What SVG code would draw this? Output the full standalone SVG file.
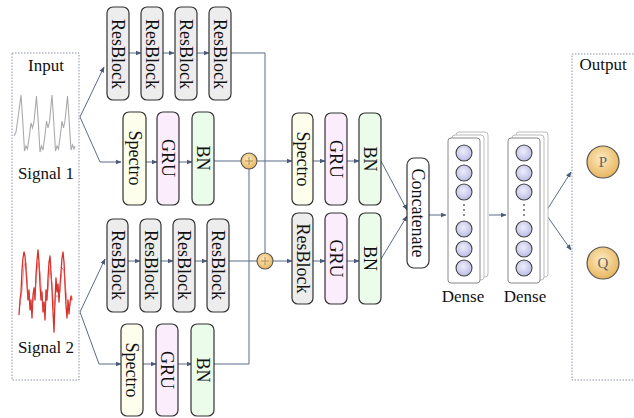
<svg xmlns="http://www.w3.org/2000/svg" width="634" height="418" viewBox="0 0 634 418">
<defs>
<style>
.t{font-family:"Liberation Serif","Times New Roman",serif;fill:#111}
.bt{font-family:"Liberation Serif","Times New Roman",serif;font-size:18px;fill:#111;text-anchor:middle;dominant-baseline:central}
.box{stroke:#333;stroke-width:1.2}
.res{fill:#ededed}
.spe{fill:#fefeec}
.gru{fill:#fcedfc}
.bn{fill:#ebfceb}
.c{fill:none;stroke:#5b6b88;stroke-width:1}
.ca{fill:none;stroke:#5b6b88;stroke-width:1;marker-end:url(#ah)}
.frame{fill:none;stroke:#8a93a8;stroke-width:1;stroke-dasharray:1.5 1.5}
.neu{fill:url(#ng);stroke:#444;stroke-width:1.1}
.ghost{fill:#e4e4f4;stroke:#bbb;stroke-width:0.8}
.lay{fill:#fff;stroke:#888;stroke-width:1}
.layb{fill:#fff;stroke:#bbb;stroke-width:1}
</style>
<marker id="ah" viewBox="0 0 10 10" refX="9" refY="5" markerWidth="6" markerHeight="6" orient="auto" markerUnits="userSpaceOnUse">
<path d="M0,1 L10,5 L0,9 z" fill="#4a5a78"/>
</marker>
<radialGradient id="og" cx="45%" cy="40%" r="60%">
<stop offset="0" stop-color="#fdecc2"/>
<stop offset="1" stop-color="#e8b55e"/>
</radialGradient>
<radialGradient id="ng" cx="45%" cy="40%" r="60%">
<stop offset="0" stop-color="#eeeefb"/>
<stop offset="1" stop-color="#bcbce6"/>
</radialGradient>
</defs>
<rect width="634" height="418" fill="#fff"/>

<!-- frames -->
<g id="input">
<rect class="frame" x="12" y="53" width="67" height="327"/>
<text class="t" x="46" y="71" font-size="17" text-anchor="middle">Input</text>
<path d="M14,136 L16,132 L18,118 L21,95 L23,125 L24.5,151 L26,146 L27.5,149 L29.5,135 L31,123 L32.5,128 L34,122 L36.5,96 L38.5,126 L40,152 L41.5,146 L43,150 L45,135 L46.5,121 L48,128 L49.5,122 L52,95 L54,126 L55.5,151 L57,146 L58.5,149 L60.5,134 L62,121 L63.5,128 L65,121 L67.5,96 L69.5,126 L71,150 L72.5,145 L74,149 L75,146" fill="none" stroke="#aaa" stroke-width="1.1"/>
<text class="t" x="46" y="179" font-size="17" text-anchor="middle">Signal 1</text>
<path d="M19,315 L20,300 L21,292 L22,270 L23,258 L24,252 L25,256 L26,270 L27,285 L28,300 L29,290 L30,310 L31,300 L32,318 L33,295 L34,288 L35,300 L36,275 L37,260 L38,250 L39,262 L40,285 L41,300 L42,292 L43,312 L44,302 L45,320 L46,290 L47,300 L48,278 L49,262 L50,256 L51,272 L52,290 L53,312 L54,332 L55,300 L56,278 L57,292 L58,284 L59,302 L60,285 L61,272 L62,258 L63,252 L64,262 L65,285 L66,306 L67,318 L68,300 L69,314 L70,302 L71,296 L72,300" fill="none" stroke="#d8302a" stroke-width="1.3" stroke-linejoin="round"/>
<path d="M20,305 L22,290 L24,265 L26,262 L28,294 L30,300 L32,306 L34,296 L36,282 L38,262 L40,272 L42,298 L44,310 L46,300 L48,290 L50,268 L52,284 L54,310 L56,296 L58,296 L60,292 L62,268 L64,270 L66,292 L68,308 L70,306 L72,296" fill="none" stroke="#e05050" stroke-width="0.9" opacity="0.7"/>
<text class="t" x="46" y="353" font-size="17" text-anchor="middle">Signal 2</text>
</g>

<g id="output">
<rect class="frame" x="572" y="54" width="70" height="326"/>
<text class="t" x="603" y="70" font-size="17" text-anchor="middle">Output</text>
</g>

<!-- connectors -->
<g id="connectors">
<path class="ca" d="M80,117 L104,67"/>
<path class="ca" d="M80,117 L100,162 L121,162"/>
<path class="ca" d="M129,53 L141,53"/>
<path class="ca" d="M163,53 L174,53"/>
<path class="ca" d="M197,53 L209,53"/>
<path class="c" d="M231,53 L265,53 L265,253"/>
<path class="ca" d="M146,162 L157,162"/>
<path class="ca" d="M179,162 L192,162"/>
<path class="c" d="M214,161 L241,161"/>
<path class="ca" d="M257,161 L292,161"/>
<path class="ca" d="M80,312 L105,259"/>
<path class="ca" d="M80,312 L99,364 L121,364"/>
<path class="ca" d="M128,261 L140,261"/>
<path class="ca" d="M161,261 L173,261"/>
<path class="ca" d="M195,261 L207,261"/>
<path class="c" d="M229,261 L257,261"/>
<path class="ca" d="M273,261 L292,261"/>
<path class="ca" d="M143,364 L156,364"/>
<path class="ca" d="M178,364 L192,364"/>
<path class="c" d="M214,364 L249,364 L249,169" stroke="#7f889a" stroke-width="1.4"/>
<path class="ca" d="M313,161 L325,161"/>
<path class="ca" d="M347,161 L359,161"/>
<path class="ca" d="M313,261 L325,261"/>
<path class="ca" d="M347,261 L359,261"/>
<path class="ca" d="M381,161 L407,210"/>
<path class="ca" d="M381,259 L407,216"/>
<path class="ca" d="M429,215 L446,215"/>
<path class="ca" d="M489,215 L506,215"/>
<path class="ca" d="M545,213 L571,172"/>
<path class="ca" d="M545,213 L571,250"/>
</g>

<!-- sum nodes -->
<g id="sum1">
<circle cx="249" cy="161" r="8" fill="url(#og)" stroke="#555" stroke-width="1.1"/>
<path d="M245,161 L253,161 M249,157 L249,165" stroke="#b08a50" stroke-width="1"/>
</g>
<g id="sum2">
<circle cx="265" cy="261" r="8" fill="url(#og)" stroke="#555" stroke-width="1.1"/>
<path d="M261,261 L269,261 M265,257 L265,265" stroke="#b08a50" stroke-width="1"/>
</g>

<!-- top branch -->
<g id="rb1"><rect class="box res" x="107" y="7" width="22" height="93" rx="6"/><text class="bt" transform="translate(118,54) rotate(90)">ResBlock</text></g>
<g id="rb2"><rect class="box res" x="141" y="7" width="22" height="93" rx="6"/><text class="bt" transform="translate(152,54) rotate(90)">ResBlock</text></g>
<g id="rb3"><rect class="box res" x="175" y="7" width="22" height="93" rx="6"/><text class="bt" transform="translate(186,54) rotate(90)">ResBlock</text></g>
<g id="rb4"><rect class="box res" x="209" y="7" width="22" height="93" rx="6"/><text class="bt" transform="translate(220,54) rotate(90)">ResBlock</text></g>

<g id="sp1"><rect class="box spe" x="123" y="112" width="23" height="93" rx="6"/><text class="bt" transform="translate(134.5,158) rotate(90)">Spectro</text></g>
<g id="gru1"><rect class="box gru" x="157" y="112" width="22" height="93" rx="6"/><text class="bt" transform="translate(168,158) rotate(90)">GRU</text></g>
<g id="bn1"><rect class="box bn" x="192" y="112" width="22" height="93" rx="6"/><text class="bt" transform="translate(203,158) rotate(90)">BN</text></g>

<!-- bottom branch -->
<g id="rb5"><rect class="box res" x="107" y="219" width="21" height="93" rx="6"/><text class="bt" transform="translate(117.5,265) rotate(90)">ResBlock</text></g>
<g id="rb6"><rect class="box res" x="140" y="219" width="21" height="93" rx="6"/><text class="bt" transform="translate(150.5,265) rotate(90)">ResBlock</text></g>
<g id="rb7"><rect class="box res" x="173" y="219" width="22" height="93" rx="6"/><text class="bt" transform="translate(184,265) rotate(90)">ResBlock</text></g>
<g id="rb8"><rect class="box res" x="207" y="219" width="22" height="93" rx="6"/><text class="bt" transform="translate(218,265) rotate(90)">ResBlock</text></g>

<g id="sp2"><rect class="box spe" x="121" y="324" width="22" height="92" rx="6"/><text class="bt" transform="translate(132,370) rotate(90)">Spectro</text></g>
<g id="gru2"><rect class="box gru" x="156" y="324" width="22" height="92" rx="6"/><text class="bt" transform="translate(167,370) rotate(90)">GRU</text></g>
<g id="bn2"><rect class="box bn" x="191" y="324" width="23" height="92" rx="6"/><text class="bt" transform="translate(202.5,370) rotate(90)">BN</text></g>

<!-- middle -->
<g id="sp3"><rect class="box spe" x="292" y="113" width="21" height="92" rx="6"/><text class="bt" transform="translate(302.5,159) rotate(90)">Spectro</text></g>
<g id="gru3"><rect class="box gru" x="325" y="113" width="22" height="92" rx="6"/><text class="bt" transform="translate(336,159) rotate(90)">GRU</text></g>
<g id="bn3"><rect class="box bn" x="359" y="113" width="22" height="92" rx="6"/><text class="bt" transform="translate(370,159) rotate(90)">BN</text></g>

<g id="rb9"><rect class="box res" x="292" y="213" width="21" height="91" rx="6"/><text class="bt" transform="translate(302.5,258.5) rotate(90)">ResBlock</text></g>
<g id="gru4"><rect class="box gru" x="325" y="213" width="22" height="91" rx="6"/><text class="bt" transform="translate(336,258.5) rotate(90)">GRU</text></g>
<g id="bn4"><rect class="box bn" x="359" y="213" width="22" height="91" rx="6"/><text class="bt" transform="translate(370,258.5) rotate(90)">BN</text></g>

<g id="concat"><rect class="box" fill="#fff" x="407" y="158" width="22" height="110" rx="7"/><text class="bt" transform="translate(418,213) rotate(90)">Concatenate</text></g>

<!-- dense 1 -->
<g id="dense1">
<rect class="layb" x="456" y="132" width="32" height="145" rx="3"/>
<rect class="layb" x="452" y="135" width="32" height="145" rx="3"/>
<g opacity="0.45">
<circle class="ghost" cx="468" cy="150" r="8"/><circle class="ghost" cx="468" cy="170" r="8"/><circle class="ghost" cx="468" cy="189" r="8"/>
<circle class="ghost" cx="468" cy="226" r="8"/><circle class="ghost" cx="468" cy="246" r="8"/><circle class="ghost" cx="468" cy="265" r="8"/>
</g>
<rect class="lay" x="448" y="138" width="32" height="145" rx="3"/>
<circle class="neu" cx="464" cy="153" r="8"/><circle class="neu" cx="464" cy="173" r="8"/><circle class="neu" cx="464" cy="192" r="8"/>
<circle cx="464" cy="205" r="0.9" fill="#555"/><circle cx="464" cy="210" r="0.9" fill="#555"/><circle cx="464" cy="215" r="0.9" fill="#555"/>
<circle class="neu" cx="464" cy="229" r="8"/><circle class="neu" cx="464" cy="249" r="8"/><circle class="neu" cx="464" cy="268" r="8"/>
<text class="t" x="463" y="302" font-size="17" text-anchor="middle">Dense</text>
</g>

<!-- dense 2 -->
<g id="dense2">
<rect class="layb" x="516" y="132" width="32" height="145" rx="3"/>
<rect class="layb" x="512" y="135" width="32" height="145" rx="3"/>
<g opacity="0.45">
<circle class="ghost" cx="528" cy="150" r="8"/><circle class="ghost" cx="528" cy="170" r="8"/><circle class="ghost" cx="528" cy="189" r="8"/>
<circle class="ghost" cx="528" cy="226" r="8"/><circle class="ghost" cx="528" cy="246" r="8"/><circle class="ghost" cx="528" cy="265" r="8"/>
</g>
<rect class="lay" x="508" y="138" width="32" height="145" rx="3"/>
<circle class="neu" cx="524" cy="153" r="8"/><circle class="neu" cx="524" cy="173" r="8"/><circle class="neu" cx="524" cy="192" r="8"/>
<circle cx="524" cy="205" r="0.9" fill="#555"/><circle cx="524" cy="210" r="0.9" fill="#555"/><circle cx="524" cy="215" r="0.9" fill="#555"/>
<circle class="neu" cx="524" cy="229" r="8"/><circle class="neu" cx="524" cy="249" r="8"/><circle class="neu" cx="524" cy="268" r="8"/>
<text class="t" x="525" y="302" font-size="17" text-anchor="middle">Dense</text>
</g>

<g id="P">
<circle cx="603" cy="162" r="16" fill="url(#og)" stroke="#555" stroke-width="1.2"/>
<text class="t" x="603" y="167" font-size="15" text-anchor="middle" style="fill:#666">P</text>
</g>
<g id="Q">
<circle cx="603" cy="263" r="16" fill="url(#og)" stroke="#555" stroke-width="1.2"/>
<text class="t" x="603" y="268" font-size="15" text-anchor="middle" style="fill:#666">Q</text>
</g>
</svg>
